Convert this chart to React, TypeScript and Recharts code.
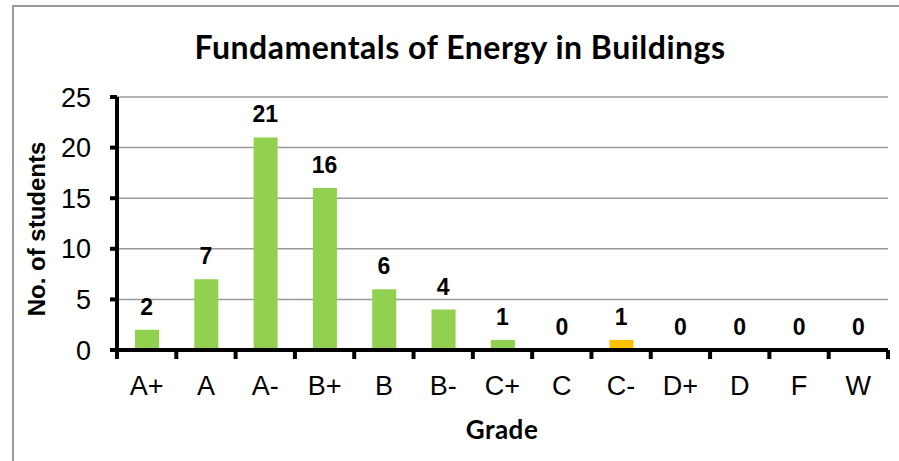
import { Bar, ComposedChart, CartesianGrid, Cell, LabelList, Line, XAxis, YAxis } from "recharts";

const grades = ["A+", "A", "A-", "B+", "B", "B-", "C+", "C", "C-", "D+", "D", "F", "W"];
const students = [2, 7, 21, 16, 6, 4, 1, 0, 1, 0, 0, 0, 0];
const highlighted = ["C-"];
const yTicks = [0, 5, 10, 15, 20, 25];

const data = grades.map((grade, i) => ({ grade, students: students[i] }));

const W = 899;
const H = 461;
const PLOT_LEFT = 117;
const PLOT_RIGHT = 11;
const band = (W - PLOT_LEFT - PLOT_RIGHT) / grades.length;
const font = "'Liberation Sans', Arial, sans-serif";

function GradeTick(props: any) {
  const { x, y, payload, index } = props;
  const last = index === grades.length - 1;
  return (
    <g>
      <line x1={x - band / 2} x2={x - band / 2} y1={y} y2={y + 9} stroke="#000" strokeWidth={4} />
      {last && <line x1={x + band / 2} x2={x + band / 2} y1={y} y2={y + 9} stroke="#000" strokeWidth={4} />}
      <text x={x} y={y + 45} textAnchor="middle" fontSize={27} fontFamily={font} fill="#000">
        {payload.value}
      </text>
    </g>
  );
}

export default function App() {
  return (
    <div style={{ position: "relative", width: W, height: H, background: "#fff", fontFamily: font }}>
      <style>{"body{margin:0}"}</style>
      <div style={{ position: "absolute", left: 12, top: 5, right: -2, bottom: -2, borderLeft: "2px solid #999", borderTop: "2px solid #999" }} />
      <div style={{ position: "absolute", left: 0, width: 920, top: 27, textAlign: "center", fontFamily: "Lato, sans-serif", fontWeight: 700, fontSize: 32, letterSpacing: 0.5, color: "#000" }}>
        Fundamentals of Energy in Buildings
      </div>
      <div style={{ position: "absolute", left: 0, width: 1004, top: 413, textAlign: "center", fontFamily: "Lato, sans-serif", fontWeight: 700, fontSize: 26, letterSpacing: 0.5 }}>
        Grade
      </div>
      <div style={{ position: "absolute", left: 37, top: 229, transform: "translate(-50%, -50%) rotate(-90deg)", whiteSpace: "nowrap", fontFamily: font, fontWeight: 700, fontSize: 24 }}>
        No. of students
      </div>
      <ComposedChart width={W} height={H} data={data} margin={{ top: 97, right: PLOT_RIGHT, bottom: 0, left: 0 }} style={{ position: "absolute", left: 0, top: 0 }}>
        <CartesianGrid vertical={false} stroke="#999" strokeWidth={1.5} />
        <XAxis dataKey="grade" height={111} interval={0} axisLine={{ stroke: "#000", strokeWidth: 4 }}
          tickLine={false} tickSize={0} tickMargin={0} tick={<GradeTick />} />
        <YAxis width={PLOT_LEFT} domain={[0, 25]} ticks={yTicks} interval={0}
          axisLine={{ stroke: "#000", strokeWidth: 4 }} tickLine={{ stroke: "#000", strokeWidth: 4 }} tickSize={7} tickMargin={19}
          fontSize={27} fontFamily={font} tick={{ fill: "#000" }} />
        <Bar dataKey="students" barSize={24} isAnimationActive={false}>
          {data.map((d) => (
            <Cell key={d.grade} fill={highlighted.includes(d.grade) ? "#FFC000" : "#92D050"} />
          ))}
        </Bar>
        <Line dataKey="students" stroke="none" dot={false} activeDot={false} isAnimationActive={false}>
          <LabelList dataKey="students" position="top" offset={15} fontSize={23} fontWeight={700} fontFamily={font} fill="#000" />
        </Line>
      </ComposedChart>
    </div>
  );
}
